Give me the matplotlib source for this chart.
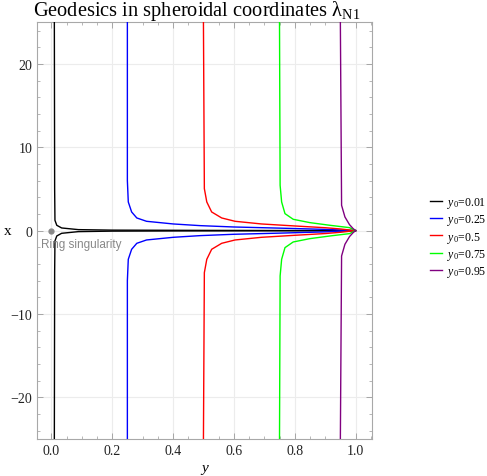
import matplotlib
matplotlib.use("Agg")
import matplotlib.pyplot as plt
from matplotlib.ticker import MultipleLocator

plt.rcParams['font.family'] = ['Liberation Serif', 'DejaVu Serif']
plt.rcParams['mathtext.fontset'] = 'custom'
plt.rcParams['mathtext.rm'] = 'Liberation Serif'
plt.rcParams['mathtext.it'] = 'Liberation Serif:italic'

# upper branch of each geodesic (x >= 0); lower branch is its mirror image
y_start = [0.01, 0.25, 0.5, 0.75, 0.95]
labels = ["0.01", "0.25", "0.5", "0.75", "0.95"]
colors = ["#000000", "#0000ff", "#ff0000", "#00ff00", "#800080"]

x_black = [25, 5, 1.24, 0.64, 0.32, 0.12, 0.06, 0.03, 0.01, 0]
y_black = [0.010, 0.011, 0.012, 0.018, 0.034, 0.089, 0.2, 0.5, 0.8, 1.0]

x_blue = [25, 6, 3.44, 2.24, 1.52, 1.12, 0.8, 0.6, 0.44, 0.3, 0.15, 0]
y_blue = [0.25, 0.25, 0.253, 0.264, 0.281, 0.313, 0.401, 0.489, 0.598, 0.75, 0.9, 1.0]

x_red = [25, 5.04, 3.44, 2.24, 1.52, 1.12, 0.8, 0.56, 0.35, 0.2, 0]
y_red = [0.5, 0.503, 0.511, 0.527, 0.56, 0.604, 0.691, 0.80, 0.9, 0.95, 1.0]

x_green = [25, 5.44, 3.44, 2.04, 1.36, 0.96, 0.64, 0.36, 0]
y_green = [0.75, 0.752, 0.757, 0.768, 0.795, 0.85, 0.916, 0.98, 1.0]

x_purple = [25, 3.04, 1.64, 0.72, 0.24, 0]
y_purple = [0.95, 0.954, 0.965, 0.98, 0.992, 1.0]

curves = [(y_black, x_black), (y_blue, x_blue), (y_red, x_red),
          (y_green, x_green), (y_purple, x_purple)]

fig = plt.figure(figsize=(4.87, 4.77), dpi=100)
ax = fig.add_axes([0.0766, 0.0776, 0.6879, 0.8736])

for (ys, xs), col, lab in zip(curves, colors, labels):
    ax.plot(ys, xs, color=col, lw=1.0, label=f"$y_0$={lab}", zorder=3)
    ax.plot(ys, [-v for v in xs], color=col, lw=1.0, zorder=3)

# ring singularity marker
ax.plot([0], [0], 'o', color='#888888', ms=3.5, zorder=4)
ax.text(-0.033, -1.55, "Ring singularity", color='#888888', fontsize=8.5,
        family='Liberation Sans', ha='left', va='center', zorder=5)

ax.set_xlim(-0.046, 1.055)
ax.set_ylim(-25, 25)

ax.xaxis.set_major_locator(MultipleLocator(0.2))
ax.xaxis.set_minor_locator(MultipleLocator(0.05))
ax.yaxis.set_major_locator(MultipleLocator(10))
ax.yaxis.set_minor_locator(MultipleLocator(2))
ax.tick_params(which='both', direction='in', top=True, right=True,
               color='#9a9a9a', labelsize=10, labelcolor='#222222')
ax.tick_params(which='major', length=4, width=0.6)
ax.tick_params(which='minor', length=2.5, width=0.5)
ax.grid(True, which='major', color='#ececec', lw=0.8, zorder=0)
for s in ax.spines.values():
    s.set_color('#a8a8a8')
    s.set_linewidth(0.8)

ax.set_xlabel("$y$", fontsize=11, labelpad=4)
ax.set_ylabel("x", fontsize=11, rotation=0, labelpad=2, va='center')
ax.set_title("Geodesics in spheroidal coordinates λ$_{\\mathrm{N1}}$",
             fontsize=14.7, pad=3, x=0.476)

fig.legend(loc='center left', bbox_to_anchor=(0.883, 0.501), frameon=False,
           fontsize=8.5, handlelength=1.0, handletextpad=0.42,
           labelspacing=0.2, borderpad=0, borderaxespad=0)

fig.savefig("out.png", dpi=100)
